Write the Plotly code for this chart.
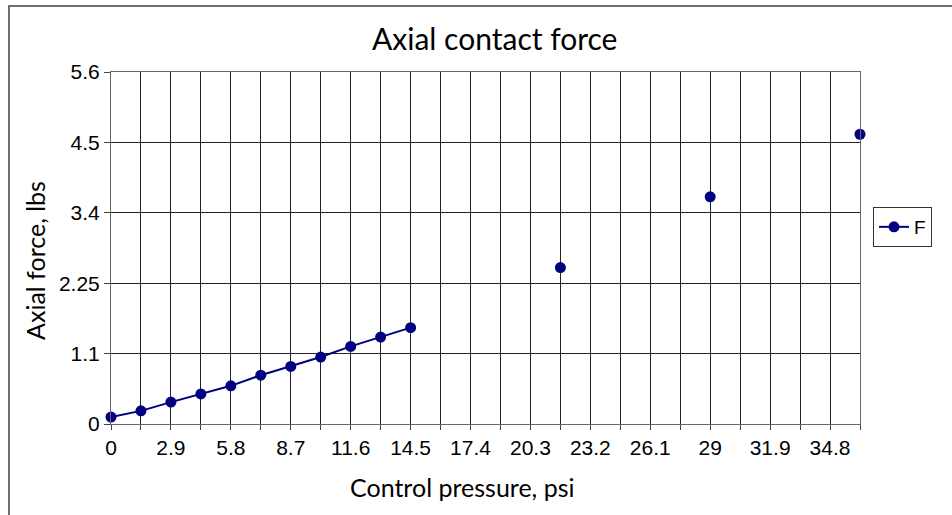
import plotly.graph_objects as go

# Data
pressure_psi = [0, 1.45, 2.9, 4.35, 5.8, 7.25, 8.7, 10.15, 11.6, 13.05, 14.5,
                15.95, 17.4, 18.85, 20.3, 21.75, 23.2, 24.65, 26.1, 27.55, 29,
                30.45, 31.9, 33.35, 34.8, 36.25]
force_lbs = [0.11, 0.21, 0.35, 0.48, 0.61, 0.78, 0.92, 1.07, 1.24, 1.39, 1.54,
             None, None, None, None, 2.50, None, None, None, None, 3.63,
             None, None, None, None, 4.63]

x_tick_vals = [0, 1.45, 2.9, 4.35, 5.8, 7.25, 8.7, 10.15, 11.6, 13.05, 14.5,
               15.95, 17.4, 18.85, 20.3, 21.75, 23.2, 24.65, 26.1, 27.55, 29,
               30.45, 31.9, 33.35, 34.8, 36.25]
x_tick_text = ["0", "", "2.9", "", "5.8", "", "8.7", "", "11.6", "", "14.5",
               "", "17.4", "", "20.3", "", "23.2", "", "26.1", "", "29",
               "", "31.9", "", "34.8", ""]
y_tick_vals = [0, 1.125, 2.25, 3.375, 4.5, 5.625]
y_tick_text = ["0", "1.1", "2.25", "3.4", "4.5", "5.6"]

W, H = 952, 515
# plot area in page pixels: x 111..860, y 72..424
L, T = 111, 72
R, B = W - 860, H - 424
pw, ph = 860 - 111, 424 - 72

def px_x(p):  # page pixel -> paper x
    return (p - L) / pw

def px_y(p):  # page pixel -> paper y
    return (424 - p) / ph

navy = "#000080"
fig = go.Figure()
fig.add_trace(go.Scatter(
    x=pressure_psi, y=force_lbs, name="F", mode="lines+markers",
    connectgaps=False, cliponaxis=False,
    line=dict(color=navy, width=2),
    marker=dict(color=navy, size=11, symbol="circle"),
))

tick_font = dict(family="Liberation Sans", size=21, color="black")
fig.update_layout(
    width=W, height=H,
    margin=dict(l=L, r=R, t=T, b=B, autoexpand=False),
    paper_bgcolor="white", plot_bgcolor="white",
    showlegend=True,
    legend=dict(x=px_x(873), y=px_y(207), xanchor="left", yanchor="top",
                bordercolor="#333333", borderwidth=1, bgcolor="white",
                font=dict(family="Liberation Sans", size=19, color="black"),
                itemwidth=30, tracegroupgap=0, entrywidth=66, entrywidthmode="pixels"),
    xaxis=dict(range=[0, 36.25], tickmode="array", tickvals=x_tick_vals,
               ticktext=x_tick_text, showgrid=True, gridcolor="#222222", gridwidth=1,
               ticks="outside", ticklen=5, tickcolor="#444444", tickfont=tick_font,
               showline=True, linecolor="#666666", linewidth=1, mirror=True,
               zeroline=False, tickangle=0, fixedrange=True),
    yaxis=dict(range=[0, 5.625], tickmode="array", tickvals=y_tick_vals,
               ticktext=y_tick_text, showgrid=True, gridcolor="#222222", gridwidth=1,
               ticks="outside", ticklen=6, tickcolor="#444444", tickfont=tick_font,
               showline=True, linecolor="#666666", linewidth=1, mirror=True,
               zeroline=False, fixedrange=True),
    annotations=[
        dict(text="Axial contact force", x=px_x(494), y=px_y(38), xref="paper", yref="paper",
             showarrow=False, xanchor="center", yanchor="middle",
             font=dict(family="Lato, sans-serif", size=30, color="black")),
        dict(text="Control pressure, psi", x=px_x(462), y=px_y(487), xref="paper", yref="paper",
             showarrow=False, xanchor="center", yanchor="middle",
             font=dict(family="Lato, sans-serif", size=25, color="black")),
        dict(text="Axial force, lbs", x=px_x(35), y=px_y(261), xref="paper", yref="paper",
             showarrow=False, xanchor="center", yanchor="middle", textangle=-90,
             font=dict(family="Lato, sans-serif", size=25, color="black")),
    ],
    shapes=[
        dict(type="rect", xref="paper", yref="paper",
             x0=px_x(9), x1=px_x(W + 10), y0=px_y(H + 10), y1=px_y(6),
             line=dict(color="#404040", width=1.5), fillcolor="rgba(0,0,0,0)", layer="below"),
    ],
)

fig.write_html("out.html", config={"displayModeBar": False},
               post_script="document.body.style.margin='0';document.body.style.padding='0';")
